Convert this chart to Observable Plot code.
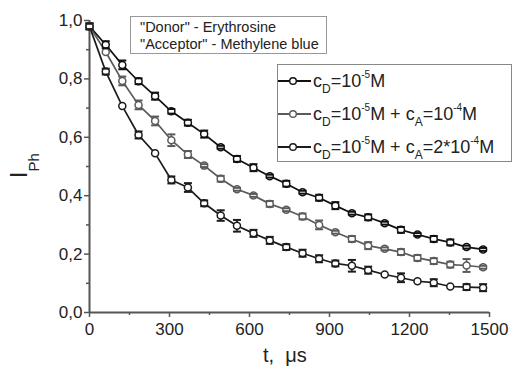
<!DOCTYPE html>
<html>
<head>
<meta charset="utf-8">
<script src="https://cdn.jsdelivr.net/npm/d3@7"></script>
<script src="https://cdn.jsdelivr.net/npm/@observablehq/plot@0.6"></script>
<style>
  html, body { margin: 0; padding: 0; background: white; }
  #chart svg { display: block; }
</style>
</head>
<body>
<div id="chart"></div>
<script>
// ---- data ----
const tValues = [0, 61, 123, 184, 246, 307, 369, 430, 492, 553, 615, 676, 738, 799, 861, 922, 984, 1045, 1107, 1168, 1230, 1291, 1353, 1414, 1476];
const seriesA = [0.98, 0.917, 0.848, 0.792, 0.741, 0.689, 0.650, 0.611, 0.566, 0.526, 0.496, 0.467, 0.441, 0.412, 0.393, 0.366, 0.340, 0.326, 0.306, 0.283, 0.267, 0.252, 0.240, 0.224, 0.216];
const seriesB = [0.98, 0.892, 0.793, 0.711, 0.656, 0.590, 0.541, 0.503, 0.458, 0.422, 0.401, 0.372, 0.352, 0.329, 0.300, 0.275, 0.252, 0.229, 0.218, 0.207, 0.187, 0.176, 0.164, 0.161, 0.155];
const seriesC = [0.98, 0.825, 0.707, 0.608, 0.545, 0.454, 0.428, 0.374, 0.332, 0.297, 0.271, 0.247, 0.224, 0.203, 0.184, 0.168, 0.160, 0.145, 0.130, 0.119, 0.107, 0.102, 0.089, 0.087, 0.085];
const errA = [0.01, 0.012, 0.015, 0.01, 0.012, 0.008, 0.01, 0.012, 0.005, 0.01, 0.012, 0.005, 0.01, 0.005, 0.01, 0.012, 0.005, 0.01, 0.005, 0.01, 0.005, 0.01, 0.01, 0.005, 0.005];
const errB = [0.01, 0, 0.015, 0.015, 0.015, 0.02, 0.012, 0.005, 0.01, 0.005, 0.005, 0.01, 0.005, 0.01, 0.015, 0.005, 0.01, 0.012, 0.005, 0.01, 0.01, 0.01, 0.01, 0.022, 0.005];
const errC = [0.01, 0.01, 0, 0.012, 0, 0.012, 0.015, 0.01, 0.018, 0.02, 0.012, 0.012, 0.01, 0.012, 0.012, 0.01, 0.02, 0.012, 0, 0.015, 0, 0.012, 0, 0.01, 0.012];
const seriesNames = ["A", "B", "C"];
const seriesColors = ["#111111", "#5a5a5a", "#1c1c1c"];
const xTicks = [0, 300, 600, 900, 1200, 1500];
const xMinorTicks = [150, 450, 750, 1050, 1350];
const yTicks = [0, 0.2, 0.4, 0.6, 0.8, 1.0];
const yMinorTicks = [0.1, 0.3, 0.5, 0.7, 0.9];
const infoLines = ["\"Donor\" - Erythrosine", "\"Acceptor\" - Methylene blue"];

// ---- table built from the arrays ----
const allValues = [seriesA, seriesB, seriesC];
const allErr = [errA, errB, errC];
const rows = [];
seriesNames.forEach((s, k) => {
  tValues.forEach((t, i) => rows.push({s, t, v: allValues[k][i], e: allErr[k][i]}));
});
const errRows = rows.filter(d => d.e > 0);

const cap = {draw(ctx) { ctx.moveTo(-4, 0); ctx.lineTo(4, 0); }};
const fmt = d => d.toFixed(1).replace(".", ",");
const AX = "#555";

const chart = Plot.plot({
  width: 513, height: 367,
  marginLeft: 89, marginRight: 24, marginTop: 20, marginBottom: 55,
  x: {domain: [0, 1500]},
  y: {domain: [0, 1]},
  color: {domain: seriesNames, range: seriesColors},
  style: {fontFamily: "'Liberation Sans', Arial, sans-serif", fontSize: "17px", color: "#222", background: "white"},
  marks: [
    Plot.axisX({ticks: xTicks, tickSize: 5, tickPadding: 5, stroke: AX, strokeWidth: 1.5, tickFormat: d => String(d), label: null, fontSize: 17}),
    Plot.axisX({ticks: xMinorTicks, tickSize: 3, stroke: AX, strokeWidth: 1.5, tickFormat: () => "", label: null}),
    Plot.axisY({ticks: yTicks, tickSize: 5, tickPadding: 2, stroke: AX, strokeWidth: 1.5, tickFormat: fmt, label: null, fontSize: 17}),
    Plot.axisY({ticks: yMinorTicks, tickSize: 3, stroke: AX, strokeWidth: 1.5, tickFormat: () => "", label: null}),
    Plot.ruleX([0], {stroke: AX, strokeWidth: 2}),
    Plot.ruleY([0], {stroke: AX, strokeWidth: 2}),
    Plot.line(rows, {x: "t", y: "v", z: "s", stroke: "s", strokeWidth: 1.7}),
    Plot.ruleX(errRows, {x: "t", y1: d => d.v - d.e, y2: d => d.v + d.e, stroke: "s", strokeWidth: 1.6}),
    Plot.dot(rows, {x: "t", y: "v", r: 3.5, fill: "white", stroke: "s", strokeWidth: 1.5}),
    Plot.dot(errRows, {x: "t", y: d => d.v + d.e, symbol: cap, fill: "none", stroke: "s", strokeWidth: 2}),
    Plot.dot(errRows, {x: "t", y: d => d.v - d.e, symbol: cap, fill: "none", stroke: "s", strokeWidth: 2})
  ]
});

const svg = d3.select(chart);
const FF = "'Liberation Sans', Arial, sans-serif";
const g = svg.append("g").attr("text-anchor", "start");

// info box
g.append("rect").attr("x", 130.5).attr("y", 16.5).attr("width", 196).attr("height", 37)
  .attr("fill", "white").attr("stroke", "#999").attr("stroke-width", 1);
infoLines.forEach((txt, i) => {
  g.append("text").attr("x", 140).attr("y", 31.5 + i * 17.5).attr("text-anchor", "start")
    .attr("font-family", FF).attr("font-size", "14.5px").attr("fill", "#222").text(txt);
});

// series legend
g.append("rect").attr("x", 277.5).attr("y", 64.5).attr("width", 234).attr("height", 97)
  .attr("fill", "white").attr("stroke", "#888").attr("stroke-width", 1);
const legendParts = [
  [["c", 0], ["D", 1], ["=10", 0], ["-5", 2], ["M", 0]],
  [["c", 0], ["D", 1], ["=10", 0], ["-5", 2], ["M + c", 0], ["A", 1], ["=10", 0], ["-4", 2], ["M", 0]],
  [["c", 0], ["D", 1], ["=10", 0], ["-5", 2], ["M + c", 0], ["A", 1], ["=2*10", 0], ["-4", 2], ["M", 0]]
];
legendParts.forEach((parts, i) => {
  const ly = 81 + i * 33;
  const col = seriesColors[i];
  g.append("line").attr("x1", 278).attr("x2", 311).attr("y1", ly).attr("y2", ly)
    .attr("stroke", col).attr("stroke-width", 2);
  g.append("circle").attr("cx", 293).attr("cy", ly).attr("r", 3.3)
    .attr("fill", "white").attr("stroke", col).attr("stroke-width", 1.4);
  const t = g.append("text").attr("x", 313).attr("y", ly + 6).attr("text-anchor", "start")
    .attr("font-family", FF).attr("font-size", "18px").attr("fill", "#222")
    .style("white-space", "pre");
  let shift = 0;
  parts.forEach(([s, kind]) => {
    const target = kind === 1 ? 6 : kind === 2 ? -9 : 0;
    t.append("tspan").attr("dy", target - shift)
      .attr("font-size", kind === 1 ? "12px" : kind === 2 ? "10px" : "18px").text(s);
    shift = target;
  });
});

// axis titles
const yl = g.append("text").attr("transform", "translate(27,178) rotate(-90)").attr("text-anchor", "start")
  .attr("font-family", FF).attr("fill", "#222");
yl.append("tspan").attr("font-size", "23px").text("I");
yl.append("tspan").attr("font-size", "15px").attr("dy", 12).text("Ph");

g.append("text").attr("x", 263).attr("y", 362).attr("text-anchor", "start")
  .attr("font-family", FF).attr("font-size", "20px").attr("fill", "#222").text("t,\u00a0 \u03bcs");

document.getElementById("chart").appendChild(chart);
</script>
</body>
</html>
